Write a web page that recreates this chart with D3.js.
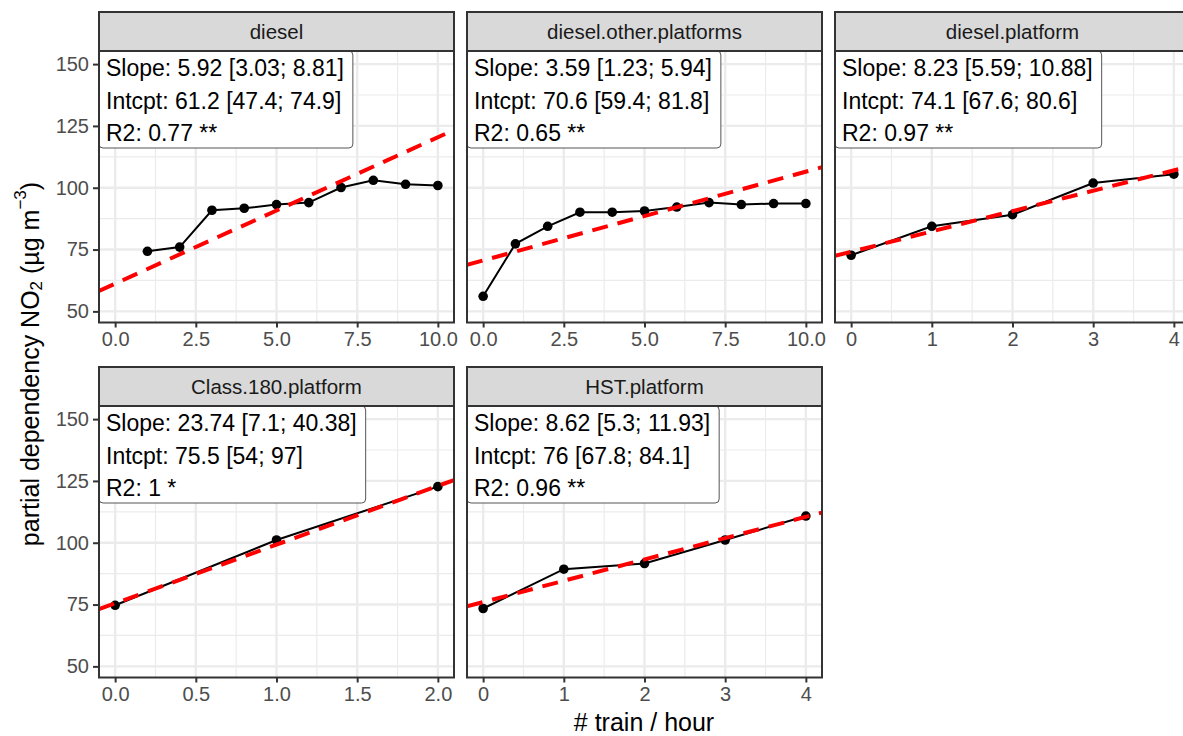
<!DOCTYPE html>
<html><head><meta charset="utf-8">
<script src="https://cdn.jsdelivr.net/npm/d3@7"></script>
<style>body{margin:0;background:#fff}svg{display:block;font-family:"Liberation Sans",Arial,sans-serif}</style>
</head><body><svg id="c" width="1183" height="736"></svg>
<script>
// ---- data ----
const facets = ["diesel", "diesel.other.platforms", "diesel.platform", "Class.180.platform", "HST.platform"];
const xDiesel = [1, 2, 3, 4, 5, 6, 7, 8, 9, 10];
const yDiesel = [74.3, 76.0, 90.9, 91.7, 93.2, 94.0, 100.1, 103.0, 101.4, 100.9];
const xDieselOther = [0, 1, 2, 3, 4, 5, 6, 7, 8, 9, 10];
const yDieselOther = [56.1, 77.3, 84.4, 90.1, 90.1, 90.6, 92.2, 94.0, 93.2, 93.6, 93.6];
const xDieselPlatform = [0, 1, 2, 3, 4];
const yDieselPlatform = [72.7, 84.4, 89.1, 101.9, 105.5];
const xClass180 = [0, 1, 2];
const yClass180 = [74.7, 101.1, 122.7];
const xHST = [0, 1, 2, 3, 4];
const yHST = [73.4, 89.3, 91.6, 101.1, 110.8];
const slopes = [5.92, 3.59, 8.23, 23.74, 8.62];
const intercepts = [61.2, 70.6, 74.1, 75.5, 76];
const slopeLabels = ["Slope: 5.92 [3.03; 8.81]", "Slope: 3.59 [1.23; 5.94]", "Slope: 8.23 [5.59; 10.88]", "Slope: 23.74 [7.1; 40.38]", "Slope: 8.62 [5.3; 11.93]"];
const intcptLabels = ["Intcpt: 61.2 [47.4; 74.9]", "Intcpt: 70.6 [59.4; 81.8]", "Intcpt: 74.1 [67.6; 80.6]", "Intcpt: 75.5 [54; 97]", "Intcpt: 76 [67.8; 84.1]"];
const r2Labels = ["R2: 0.77 **", "R2: 0.65 **", "R2: 0.97 **", "R2: 1 *", "R2: 0.96 **"];
const xTicks10 = [0, 2.5, 5, 7.5, 10];
const xTicks4 = [0, 1, 2, 3, 4];
const xTicks2 = [0, 0.5, 1, 1.5, 2];
const yTicks = [50, 75, 100, 125, 150];
const xLabel = "# train / hour";

// ---- layout ----
const svg = d3.select("#c");
const colX = [99, 467, 835], panelW = 355;
const stripTop = [12, 367], stripH = 39, panelH = 271.5;
const yDomain = [45.5, 155.3];

const panels = [
  {x: xDiesel, y: yDiesel, dom: [-0.5, 10.5], ticks: xTicks10, fmt: d3.format(".1f"), col: 0, row: 0},
  {x: xDieselOther, y: yDieselOther, dom: [-0.5, 10.5], ticks: xTicks10, fmt: d3.format(".1f"), col: 1, row: 0},
  {x: xDieselPlatform, y: yDieselPlatform, dom: [-0.2, 4.2], ticks: xTicks4, fmt: d3.format("d"), col: 2, row: 0},
  {x: xClass180, y: yClass180, dom: [-0.1, 2.1], ticks: xTicks2, fmt: d3.format(".1f"), col: 0, row: 1},
  {x: xHST, y: yHST, dom: [-0.2, 4.2], ticks: xTicks4, fmt: d3.format("d"), col: 1, row: 1}
];

const defs = svg.append("defs");

panels.forEach((p, i) => {
  const left = colX[p.col];
  const sTop = stripTop[p.row];
  const top = sTop + stripH;
  const x = d3.scaleLinear().domain(p.dom).range([left, left + panelW]);
  const y = d3.scaleLinear().domain(yDomain).range([top + panelH, top]);
  const g = svg.append("g");

  defs.append("clipPath").attr("id", "clip" + i)
    .append("rect").attr("x", left).attr("y", top).attr("width", panelW).attr("height", panelH);

  // minor grid
  const step = p.ticks[1] - p.ticks[0];
  const xMinor = p.ticks.map(t => t + step / 2).filter(v => v > p.dom[0] && v < p.dom[1]);
  const yMinor = [62.5, 87.5, 112.5, 137.5];
  const grid = g.append("g").attr("clip-path", `url(#clip${i})`);
  grid.selectAll(".xm").data(xMinor).join("line")
    .attr("x1", d => x(d)).attr("x2", d => x(d)).attr("y1", top).attr("y2", top + panelH)
    .attr("stroke", "#ebebeb").attr("stroke-width", 1.2);
  grid.selectAll(".ym").data(yMinor).join("line")
    .attr("y1", d => y(d)).attr("y2", d => y(d)).attr("x1", left).attr("x2", left + panelW)
    .attr("stroke", "#ebebeb").attr("stroke-width", 1.2);
  grid.selectAll(".xM").data(p.ticks).join("line")
    .attr("x1", d => x(d)).attr("x2", d => x(d)).attr("y1", top).attr("y2", top + panelH)
    .attr("stroke", "#ebebeb").attr("stroke-width", 2.4);
  grid.selectAll(".yM").data(yTicks).join("line")
    .attr("y1", d => y(d)).attr("y2", d => y(d)).attr("x1", left).attr("x2", left + panelW)
    .attr("stroke", "#ebebeb").attr("stroke-width", 2.4);

  // data line + points
  const pts = p.x.map((v, k) => [v, p.y[k]]);
  const data = g.append("g").attr("clip-path", `url(#clip${i})`);
  data.append("path").datum(pts)
    .attr("d", d3.line().x(d => x(d[0])).y(d => y(d[1])))
    .attr("fill", "none").attr("stroke", "#000").attr("stroke-width", 2);
  data.selectAll("circle").data(pts).join("circle")
    .attr("cx", d => x(d[0])).attr("cy", d => y(d[1])).attr("r", 4.8).attr("fill", "#000");

  // regression line
  const fx = p.dom;
  data.append("line")
    .attr("x1", x(fx[0])).attr("y1", y(intercepts[i] + slopes[i] * fx[0]))
    .attr("x2", x(fx[1])).attr("y2", y(intercepts[i] + slopes[i] * fx[1]))
    .attr("stroke", "#ff0000").attr("stroke-width", 4).attr("stroke-dasharray", "16,10");

  // label box
  const lab = g.append("g");
  const lines = [slopeLabels[i], intcptLabels[i], r2Labels[i]];
  const texts = lab.selectAll("text").data(lines).join("text")
    .attr("x", left + 7).attr("y", (d, k) => top + 17 + k * 32.5)
    .attr("dominant-baseline", "central")
    .attr("font-size", 23).attr("fill", "#000").text(d => d);
  let maxW = 0;
  texts.each(function () { maxW = Math.max(maxW, this.getComputedTextLength()); });
  lab.insert("path", "text")
    .attr("d", () => {
      const w = maxW + 16, h = 97, r = 4, x0 = left, y0 = top;
      return `M${x0},${y0}H${x0 + w - r}Q${x0 + w},${y0} ${x0 + w},${y0 + r}V${y0 + h - r}Q${x0 + w},${y0 + h} ${x0 + w - r},${y0 + h}H${x0 + r}Q${x0},${y0 + h} ${x0},${y0 + h - r}V${y0}Z`;
    })
    .attr("fill", "#fff").attr("stroke", "#555").attr("stroke-width", 1);

  // panel border
  g.append("rect").attr("x", left).attr("y", top).attr("width", panelW).attr("height", panelH)
    .attr("fill", "none").attr("stroke", "#333").attr("stroke-width", 2);

  // strip
  g.append("rect").attr("x", left).attr("y", sTop).attr("width", panelW).attr("height", stripH)
    .attr("fill", "#d9d9d9").attr("stroke", "#333").attr("stroke-width", 2);
  g.append("text").attr("x", left + panelW / 2).attr("y", sTop + stripH / 2)
    .attr("text-anchor", "middle").attr("dominant-baseline", "central")
    .attr("font-size", 20.5).attr("fill", "#1a1a1a").text(facets[i]);

  // x axis
  const xa = g.append("g").attr("transform", `translate(0,${top + panelH})`)
    .call(d3.axisBottom(x).tickValues(p.ticks).tickFormat(p.fmt).tickSize(5).tickPadding(4));
  xa.select(".domain").remove();
  xa.selectAll("line").attr("stroke", "#333").attr("stroke-width", 2);
  xa.selectAll("text").attr("font-size", 20).attr("fill", "#4d4d4d").attr("font-family", "Liberation Sans, Arial, sans-serif");

  // y axis (left column only)
  if (p.col === 0) {
    const ya = g.append("g").attr("transform", `translate(${left},0)`)
      .call(d3.axisLeft(y).tickValues(yTicks).tickSize(6).tickPadding(4));
    ya.select(".domain").remove();
    ya.selectAll("line").attr("stroke", "#333").attr("stroke-width", 2);
    ya.selectAll("text").attr("font-size", 20).attr("fill", "#4d4d4d").attr("font-family", "Liberation Sans, Arial, sans-serif");
  }
});

// axis titles
svg.append("text").attr("x", 644).attr("y", 722).attr("text-anchor", "middle")
  .attr("dominant-baseline", "central").attr("font-size", 25).attr("fill", "#000").text(xLabel);

const yt = svg.append("text").attr("transform", "translate(30,364) rotate(-90)")
  .attr("text-anchor", "middle").attr("dominant-baseline", "central").attr("font-size", 25).attr("fill", "#000");
yt.append("tspan").text("partial dependency NO");
yt.append("tspan").attr("font-size", 17).attr("dy", 6).text("2");
yt.append("tspan").attr("dy", -6).text(" (µg m");
yt.append("tspan").attr("font-size", 17).attr("dy", -10).text("−3");
yt.append("tspan").attr("dy", 10).text(")");
</script></body></html>
